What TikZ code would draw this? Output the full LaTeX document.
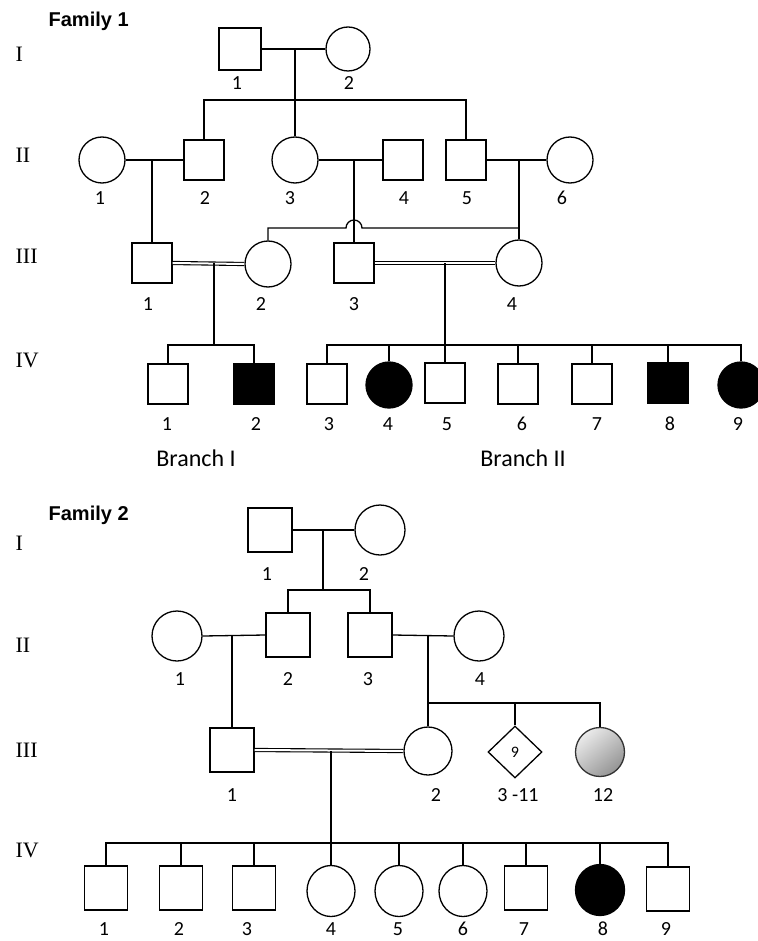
\documentclass[tikz,border=0pt]{standalone}
\usepackage{fontspec}
\setmainfont{Carlito}
\newfontfamily\genfont{Liberation Serif}
\newfontfamily\famfont{Liberation Sans}
\usetikzlibrary{shapes.geometric}
\begin{document}
\begin{tikzpicture}[x=1pt,y=-1pt,line width=1.3pt,
  sq/.style={draw,rectangle,minimum size=40pt,inner sep=0pt},
  sqb/.style={draw,rectangle,minimum size=44pt,inner sep=0pt},
  ci/.style={draw,circle,minimum size=46pt,inner sep=0pt},
  cib/.style={draw,circle,minimum size=50pt,inner sep=0pt},
  aff/.style={fill=black},
  num/.style={font=\fontsize{20}{20}\selectfont,inner sep=0pt},
  gen/.style={font=\genfont\fontsize{22}{22}\selectfont,anchor=base west,inner sep=0pt},
  fam/.style={font=\famfont\bfseries\fontsize{20}{20}\selectfont,anchor=base west,inner sep=0pt},
  branch/.style={font=\fontsize{24}{24}\selectfont,inner sep=0pt},
  dbl/.style={double,double distance=2pt,line width=1.1pt},
]
\useasboundingbox[fill=white] (0,0) rectangle (757,941);

% ================= Family 1 =================
\node[fam] (fam1) at (48,27) {Family 1};
\node[gen] (g1a) at (15,62) {I};
\node[gen] (g1b) at (15,163) {II};
\node[gen] (g1c) at (15,263) {III};
\node[gen] (g1d) at (15,367) {IV};

% Gen I
\node[sq,minimum size=42pt] (AI1) at (240,49) {};
\node[ci,minimum size=44pt] (AI2) at (348,49) {};
\node[num] (lAI1) at (237,83) {1};
\node[num] (lAI2) at (349,83) {2};
\coordinate (am12) at (295,49);
\draw (AI1.east) -- (AI2.west);

% Gen II
\node[ci] (AII1) at (102,160) {};
\node[sq] (AII2) at (204,160) {};
\node[ci] (AII3) at (295,160) {};
\node[sq] (AII4) at (403,160) {};
\node[sq] (AII5) at (466,160) {};
\node[ci] (AII6) at (570,160) {};
\node[num] (lAII1) at (100,198) {1};
\node[num] (lAII2) at (205,198) {2};
\node[num] (lAII3) at (290,198) {3};
\node[num] (lAII4) at (404,198) {4};
\node[num] (lAII5) at (467,198) {5};
\node[num] (lAII6) at (562,198) {6};

\coordinate (as1) at (204,100);
\coordinate (as2) at (466,100);
\draw (am12) -- (am12 |- as1);
\draw (AII2.north) -- (as1) -- (as2) -- (AII5.north);
\draw (am12 |- as1) -- (AII3.north);

\draw (AII1.east) -- (AII2.west);
\draw (AII3.east) -- (AII4.west);
\draw (AII5.east) -- (AII6.west);
\coordinate (am1) at (152,160);
\coordinate (am2) at (354,160);
\coordinate (am3) at (519,160);

% Gen III
\node[sq] (AIII1) at (152,263) {};
\node[ci] (AIII2) at (268,264) {};
\node[sq] (AIII3) at (354,263) {};
\node[ci] (AIII4) at (519,263) {};
\node[num] (lAIII1) at (148,304) {1};
\node[num] (lAIII2) at (261,304) {2};
\node[num] (lAIII3) at (354,304) {3};
\node[num] (lAIII4) at (512,304) {4};

\draw (am1) -- (AIII1.north);
\draw (am2) -- (AIII3.north);
\coordinate (ahop) at (519,228);
\draw (am3) -- (AIII4.north);
\draw (ahop) -- (362,228) arc[start angle=0,end angle=180,radius=8pt] -- (268,228) -- (AIII2.north);

\draw[dbl] (AIII1.east) -- (AIII2.west);
\draw[dbl] (AIII3.east) -- (AIII4.west);
\coordinate (am4) at (214,263);
\coordinate (am5) at (445,263);

% Gen IV
\node[sq] (AIV1) at (168,384) {};
\node[sq,aff] (AIV2) at (254,384) {};
\node[sq] (AIV3) at (327,384) {};
\node[ci,aff] (AIV4) at (389,385) {};
\node[sq] (AIV5) at (445,383) {};
\node[sq] (AIV6) at (518,384) {};
\node[sq] (AIV7) at (592,384) {};
\node[sq,aff] (AIV8) at (668,383) {};
\node[ci,aff] (AIV9) at (741,385) {};
\node[num] (lAIV1) at (167,424) {1};
\node[num] (lAIV2) at (256,424) {2};
\node[num] (lAIV3) at (329,424) {3};
\node[num] (lAIV4) at (388,424) {4};
\node[num] (lAIV5) at (447,424) {5};
\node[num] (lAIV6) at (522,424) {6};
\node[num] (lAIV7) at (597,424) {7};
\node[num] (lAIV8) at (670,424) {8};
\node[num] (lAIV9) at (738,424) {9};

\coordinate (abI) at (214,345);
\draw (am4) -- (abI);
\draw (AIV1.north) -- (AIV1.north |- abI) -- (AIV2.north |- abI) -- (AIV2.north);
\coordinate (abII) at (445,345);
\draw (am5) -- (AIV5.north);
\draw (AIV3.north) -- (AIV3.north |- abII) -- (AIV9.north |- abII) -- (AIV9.north);
\foreach \n in {AIV4,AIV6,AIV7,AIV8} \draw (\n.north) -- (\n.north |- abII);

\node[branch] (brI) at (196,458) {Branch I};
\node[branch] (brII) at (523,458) {Branch II};

% ================= Family 2 =================
\node[fam] (fam2) at (48,520) {Family 2};
\node[gen] (g2a) at (15,550) {I};
\node[gen] (g2b) at (15,652) {II};
\node[gen] (g2c) at (15,757) {III};
\node[gen] (g2d) at (15,857) {IV};

% Gen I
\node[sqb] (BI1) at (270,530) {};
\node[cib] (BI2) at (380,530) {};
\node[num] (lBI1) at (267,574) {1};
\node[num] (lBI2) at (364,574) {2};
\draw (BI1.east) -- (BI2.west);
\coordinate (bm12) at (323,530);
\coordinate (bs1) at (323,590);
\draw (bm12) -- (bs1);

% Gen II
\node[cib] (BII1) at (177,636) {};
\node[sqb] (BII2) at (288,635) {};
\node[sqb] (BII3) at (370,635) {};
\node[cib] (BII4) at (479,636) {};
\node[num] (lBII1) at (180,679) {1};
\node[num] (lBII2) at (288,679) {2};
\node[num] (lBII3) at (368,679) {3};
\node[num] (lBII4) at (480,679) {4};
\draw (BII2.north) -- (BII2.north |- bs1) -- (BII3.north |- bs1) -- (BII3.north);
\draw (BII1.east) -- (BII2.west);
\draw (BII3.east) -- (BII4.west);
\coordinate (bm1) at (232,636);
\coordinate (bm2) at (428,636);

% Gen III
\node[sqb] (BIII1) at (232,750) {};
\node[circle,draw,minimum size=48pt,inner sep=0pt] (BIII2) at (428,751) {};
\node[diamond,draw,minimum width=54pt,minimum height=52pt,inner sep=0pt,font=\fontsize{16}{16}\selectfont] (BIII3) at (515,752) {9};
\node[circle,draw=black!80,minimum size=49pt,inner sep=0pt,top color=black!8,bottom color=black!42,shading angle=40] (BIII4) at (600,752) {};
\node[num] (lBIII1) at (232,795) {1};
\node[num] (lBIII2) at (436,795) {2};
\node[num] (lBIII3) at (518,795) {3 -11};
\node[num] (lBIII4) at (603,795) {12};
\draw (bm1) -- (BIII1.north);
\coordinate (bs2) at (428,703);
\draw (bm2) -- (BIII2.north);
\draw (bs2) -- (BIII4.north |- bs2) -- (BIII4.north);
\draw (BIII3.north) -- (BIII3.north |- bs2);
\draw[dbl] (BIII1.east) -- (BIII2.west);
\coordinate (bm3) at (331,751);

% Gen IV
\node[draw,rectangle,minimum width=43pt,minimum height=44pt,inner sep=0pt] (BIV1) at (106,888) {};
\node[draw,rectangle,minimum width=43pt,minimum height=44pt,inner sep=0pt] (BIV2) at (181,888) {};
\node[draw,rectangle,minimum width=43pt,minimum height=44pt,inner sep=0pt] (BIV3) at (254,888) {};
\node[draw,ellipse,minimum width=48pt,minimum height=51pt,inner sep=0pt] (BIV4) at (331,891) {};
\node[draw,ellipse,minimum width=48pt,minimum height=51pt,inner sep=0pt] (BIV5) at (399,891) {};
\node[draw,ellipse,minimum width=48pt,minimum height=51pt,inner sep=0pt] (BIV6) at (463,891) {};
\node[draw,rectangle,minimum width=43pt,minimum height=44pt,inner sep=0pt] (BIV7) at (526,888) {};
\node[draw,ellipse,minimum width=49pt,minimum height=51pt,inner sep=0pt,aff] (BIV8) at (600,890) {};
\node[draw,rectangle,minimum width=43pt,minimum height=44pt,inner sep=0pt] (BIV9) at (668,889) {};
\node[num] (lBIV1) at (104,929) {1};
\node[num] (lBIV2) at (179,929) {2};
\node[num] (lBIV3) at (247,929) {3};
\node[num] (lBIV4) at (331,929) {4};
\node[num] (lBIV5) at (398,929) {5};
\node[num] (lBIV6) at (463,929) {6};
\node[num] (lBIV7) at (524,929) {7};
\node[num] (lBIV8) at (603,929) {8};
\node[num] (lBIV9) at (666,929) {9};
\coordinate (bs3) at (331,843);
\draw (bm3) -- (BIV4.north);
\draw (BIV1.north) -- (BIV1.north |- bs3) -- (BIV9.north |- bs3) -- (BIV9.north);
\foreach \n in {BIV2,BIV3,BIV5,BIV6,BIV7,BIV8} \draw (\n.north) -- (\n.north |- bs3);
\end{tikzpicture}
\end{document}
